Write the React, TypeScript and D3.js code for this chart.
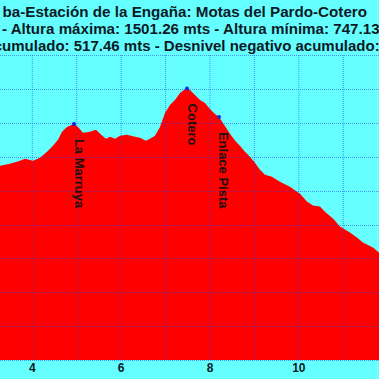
import React from 'react';
import * as d3 from 'd3';

const kmValues = [3.2, 3.273, 3.498, 3.723, 3.836, 4.016, 4.173, 4.331, 4.466, 4.578, 4.669, 4.781, 4.939, 5.029, 5.141, 5.299, 5.434, 5.524, 5.659, 5.749, 5.861, 5.974, 6.131, 6.311, 6.424, 6.559, 6.649, 6.761, 6.874, 6.986, 7.099, 7.212, 7.324, 7.414, 7.482, 7.549, 7.662, 7.774, 7.887, 7.999, 8.112, 8.202, 8.337, 8.449, 8.584, 8.674, 8.787, 8.899, 9.012, 9.124, 9.237, 9.394, 9.574, 9.799, 10.024, 10.182, 10.317, 10.474, 10.587, 10.767, 10.925, 11.15, 11.307, 11.442, 11.667, 11.802, 11.9];
const elevValues = [1272, 1273.5, 1279.4, 1288.2, 1294.1, 1288, 1297, 1315, 1332.4, 1350, 1373.5, 1388, 1397, 1388, 1370.6, 1373.5, 1379.4, 1367.6, 1353, 1358.8, 1353, 1362, 1364.7, 1358.8, 1356, 1347, 1353, 1362, 1388, 1429.4, 1453, 1467.6, 1488, 1497, 1501.26, 1497, 1482, 1467.6, 1458.8, 1441, 1426.5, 1417.6, 1391, 1367.6, 1344, 1332.4, 1315, 1300, 1282.4, 1261.8, 1247, 1241, 1226.5, 1211.8, 1191, 1167.7, 1156, 1153, 1138, 1117.6, 1094, 1076.5, 1061.8, 1047, 1032, 1017.6, 1010];

const waypointNames = ['La Marruya', 'Cotero', 'Enlace Pista'];
const waypointKm = [4.939, 7.482, 8.202];
const waypointElev = [1397, 1501.26, 1417.6];

const xTickLabels = [4, 6, 8, 10];
const gridKm = [3, 4, 5, 6, 7, 8, 9, 10, 11, 12];
const gridElev = [700, 800, 900, 1000, 1100, 1200, 1300, 1400, 1500, 1600];

const titleLine1 = 'ba-Estación de la Engaña: Motas del Pardo-Cotero';
const titleLine2 = '- Altura máxima: 1501.26 mts - Altura mínima: 747.13 mts';
const titleLine3 = 'acumulado: 517.46 mts - Desnivel negativo acumulado:';

export default function App() {
  const W = 379;
  const H = 379;
  const x = d3.scaleLinear().domain([4, 11]).range([32.3, 343.3]);
  const y = d3.scaleLinear().domain([700, 1500]).range([360, 89]);
  const plotTop = Math.round(y(1600));
  const data = kmValues.map((k, i) => [k, elevValues[i]] as [number, number]);
  const area = d3
    .area<[number, number]>()
    .x((d) => x(d[0]))
    .y0(y(700))
    .y1((d) => y(d[1]));
  const font = '"Liberation Sans", Arial, sans-serif';
  const textColor = '#0b1a26';
  const gridColor = '#2a3cf0';
  const gridOpacity = 0.55;
  return (
    <div style={{ position: 'fixed', left: 0, top: 0, width: W, height: H }}>
      <svg width={W} height={H} style={{ display: 'block' }}>
        <rect x={0} y={0} width={W} height={H} fill="#66ffff" />
        <path d={area(data) || ''} fill="#ff0000" />
        {gridKm.map((k) => (
          <line
            key={'gx' + k}
            x1={x(k)}
            x2={x(k)}
            y1={plotTop}
            y2={y(700)}
            stroke={gridColor}
            strokeWidth={1}
            strokeDasharray="1,1"
            opacity={gridOpacity}
          />
        ))}
        {gridElev.map((e) => (
          <line
            key={'gy' + e}
            x1={0}
            x2={W}
            y1={Math.round(y(e)) + 0.5}
            y2={Math.round(y(e)) + 0.5}
            stroke={gridColor}
            strokeWidth={1}
            strokeDasharray="1,1"
            opacity={gridOpacity}
          />
        ))}
        {waypointNames.map((n, i) => {
          const px = x(waypointKm[i]);
          const py = y(waypointElev[i]);
          return (
            <g key={n}>
              <circle cx={px} cy={py} r={2} fill="#2020e0" />
              <text
                transform={`translate(${px + 0.5},${py + 15}) rotate(90)`}
                fontFamily={font}
                fontWeight="bold"
                fontSize={13}
                fill="#1a1010"
              >
                {n}
              </text>
            </g>
          );
        })}
        {xTickLabels.map((t) => (
          <text
            key={'xt' + t}
            x={x(t)}
            y={372}
            textAnchor="middle"
            fontFamily={font}
            fontWeight="bold"
            fontSize={12}
            fill={textColor}
          >
            {t}
          </text>
        ))}
        <text x={2.5} y={16.5} fontFamily={font} fontWeight="bold" fontSize={15.2} fill={textColor}>
          {titleLine1}
        </text>
        <text x={2} y={33.5} fontFamily={font} fontWeight="bold" fontSize={15.15} fill={textColor}>
          {titleLine2}
        </text>
        <text x={-14.6} y={50.5} fontFamily={font} fontWeight="bold" fontSize={15} fill={textColor}>
          {titleLine3}
        </text>
      </svg>
    </div>
  );
}
